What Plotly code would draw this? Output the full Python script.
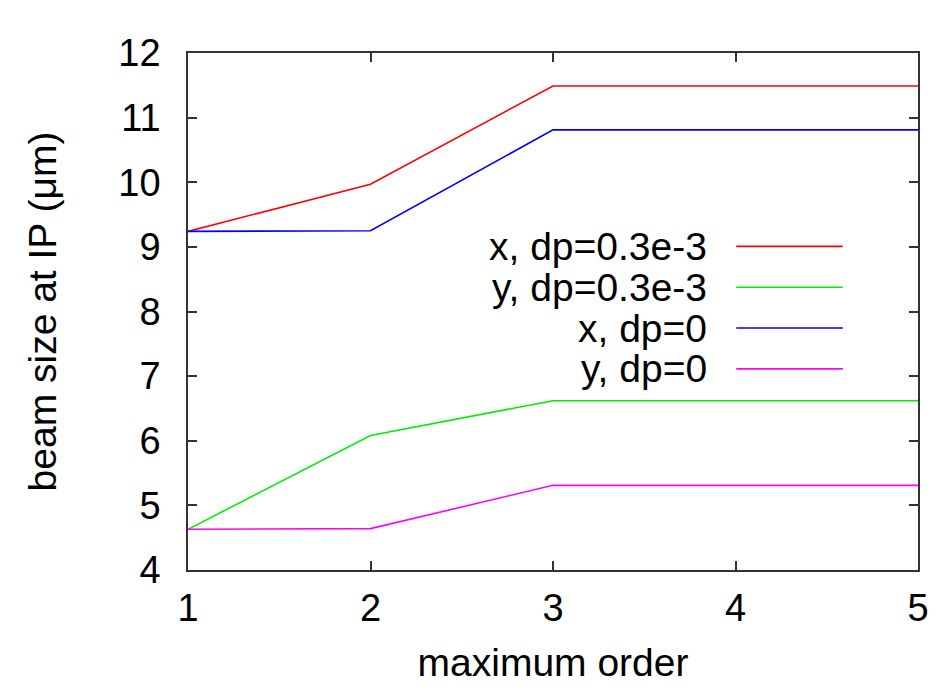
import plotly.graph_objects as go

orders = [1, 2, 3, 4, 5]
x_dp03 = [9.24, 9.97, 11.49, 11.49, 11.49]
y_dp03 = [4.63, 6.08, 6.62, 6.62, 6.62]
x_dp0 = [9.24, 9.25, 10.81, 10.81, 10.81]
y_dp0 = [4.63, 4.64, 5.31, 5.31, 5.31]

names = ["x, dp=0.3e-3", "y, dp=0.3e-3", "x, dp=0", "y, dp=0"]
colors = ["#ff0000", "#00ee00", "#0000ff", "#ff00ff"]
series = [x_dp03, y_dp03, x_dp0, y_dp0]

FONT = "Liberation Sans, Arial, sans-serif"
fig = go.Figure()
for n, c, s in zip(names, colors, series):
    fig.add_trace(go.Scatter(x=orders, y=s, mode="lines", name=n,
                             line=dict(color=c, width=1.6), showlegend=False))

# custom legend (text left of the line sample, gnuplot style)
leg_y = [0.626, 0.547, 0.468, 0.389]
for n, c, yy in zip(names, colors, leg_y):
    fig.add_annotation(xref="paper", yref="paper", x=0.714, y=yy, text=n,
                       showarrow=False, xanchor="right", yanchor="middle",
                       font=dict(family=FONT, size=39, color="black"))
    fig.add_shape(type="line", xref="paper", yref="paper",
                  x0=0.751, x1=0.897, y0=yy, y1=yy,
                  line=dict(color=c, width=1.6))

axis_common = dict(showline=True, linecolor="#333333", linewidth=1.5, mirror="ticks",
                   ticks="inside", ticklen=9, tickwidth=1.5, tickcolor="#333333",
                   showgrid=False, zeroline=False,
                   tickfont=dict(family=FONT, size=38, color="black"))
fig.update_xaxes(range=[1, 5], dtick=1, tick0=1, ticklabelstandoff=4, automargin="bottom",
                 title=dict(text="maximum order", font=dict(family=FONT, size=39, color="black"), standoff=20),
                 **axis_common)
fig.update_yaxes(range=[4, 12], dtick=1, tick0=4, ticklabelstandoff=18, automargin="left",
                 title=dict(text="beam size at IP (μm)", font=dict(family=FONT, size=39, color="black"), standoff=50),
                 **axis_common)
fig.update_layout(width=928, height=681, margin=dict(l=180, r=18, t=45, b=117),
                  paper_bgcolor="white", plot_bgcolor="white")
fig.write_html("out.html")
